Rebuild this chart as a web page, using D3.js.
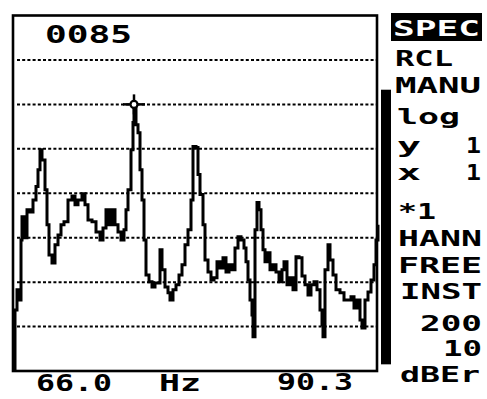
<!DOCTYPE html>
<html><head><meta charset="utf-8">
<script src="https://cdn.jsdelivr.net/npm/d3@7"></script>
<style>
html,body{margin:0;padding:0;background:#fff;}
svg{display:block;}
text{font-family:"DejaVu Sans Mono","Liberation Mono",monospace;font-weight:bold;fill:#000;}
</style></head>
<body>
<svg id="c" width="487" height="399"></svg>
<script>
// ---- data ----
const bins = [0,2,4,6,8,9,11,14,17,20,23,25,27,29,32,34,36,39,42,45,48,51,55,59,62,65,69,72,75,79,83,87,90,93,96,99,102,105,108,111,113,115,118,120,121,123,125,127,129,131,133,136,139,142,145,147,149,152,155,157,160,163,166,169,172,175,178,180,183,185,187,190,192,195,198,201,204,207,210,213,216,219,222,225,228,231,233,235,237,239,240,242,244,246,248,250,252,254,257,260,263,266,269,271,274,277,280,283,286,289,292,295,298,301,304,307,309,310,312,315,317,320,323,327,331,335,338,341,344,347,349,352,355,358,361,363,365];
const levels = [0.2,13.7,18.3,16.0,29.5,34.7,30.0,36.3,35.8,38.5,41.5,45.3,49.8,47.5,40.8,32.9,26.1,24.3,28.4,30.6,32.9,33.6,38.5,39.4,37.4,38.5,39.9,37.4,34.0,33.6,31.3,29.5,32.2,36.3,32.9,36.3,32.9,31.3,29.5,31.8,36.3,40.8,49.8,55.9,60.2,55.4,53.6,45.3,38.5,29.5,21.6,20.1,18.9,19.8,19.8,27.3,22.8,18.9,17.6,16.0,18.3,19.4,21.6,23.9,28.4,31.8,38.5,50.5,50.3,44.2,39.7,32.9,25.0,22.3,20.5,21.0,24.6,23.2,25.5,22.3,23.9,22.8,27.7,30.2,29.5,27.7,24.6,20.5,16.0,12.6,7.7,31.8,37.9,36.3,31.8,27.3,24.6,26.6,22.8,23.9,22.3,20.1,22.8,24.6,19.4,21.0,18.3,25.7,25.5,21.4,19.4,17.1,19.4,20.1,18.3,13.7,10.4,7.7,22.8,28.4,25.0,21.6,18.3,17.6,16.0,16.0,16.7,14.2,16.0,11.5,9.7,16.0,17.8,20.5,23.9,29.5,32.9];
const gridLevels = [10,20,30,40,50,60,70];
const cursorBin = 121, cursorLevel = 60;
const meterRange = [1.5, 63.3];
const counterLabel = "0085";
const axisLabels = ["66.0","Hz","90.3"];
const menuItems = ["SPEC","RCL","MANU","log","y","x","*1","HANN","FREE","INST","200","10","dBEr"];
const menuValues = ["1","1"];

// ---- layout ----
const svg = d3.select("#c");
const X0 = 13, X1 = 377, Y0 = 15.5, Y1 = 371;
const x = d3.scaleLinear().domain([0,365]).range([X0, 378]);
const y = d3.scaleLinear().domain([0,80]).range([Y1, Y0]);

// grid (dotted)
svg.append("g").selectAll("line").data(gridLevels).join("line")
  .attr("x1", X0+4).attr("x2", X1-1)
  .attr("y1", d=>y(d)).attr("y2", d=>y(d))
  .attr("stroke","#000").attr("stroke-width",2)
  .attr("stroke-dasharray","3,2.2");

// frame
svg.append("rect").attr("x",X0).attr("y",Y0).attr("width",X1-X0).attr("height",Y1-Y0)
  .attr("fill","none").attr("stroke","#000").attr("stroke-width",2.6);

// meter bar at right
svg.append("rect").attr("x",381).attr("width",10)
  .attr("y", y(meterRange[1])).attr("height", y(meterRange[0])-y(meterRange[1]))
  .attr("fill","#000");

// trace
const pts = bins.map((b,i)=>[b, levels[i]]);
const line = d3.line().x(d=>x(d[0])).y(d=>y(d[1])).curve(d3.curveStepAfter);
svg.append("path").attr("d", line(pts)).attr("fill","none")
  .attr("stroke","#000").attr("stroke-width",3).attr("stroke-linejoin","miter");

// cursor marker
const cx = x(cursorBin), cy = y(cursorLevel);
const mk = svg.append("g");
mk.append("line").attr("x1",cx-11).attr("x2",cx+11).attr("y1",cy).attr("y2",cy).attr("stroke","#000").attr("stroke-width",2.5);
mk.append("line").attr("x1",cx).attr("x2",cx).attr("y1",cy-10).attr("y2",cy+10).attr("stroke","#000").attr("stroke-width",2.5);
mk.append("circle").attr("cx",cx).attr("cy",cy).attr("r",3.5).attr("fill","#fff").attr("stroke","#000").attr("stroke-width",2.2);

// text helper
function txt(s, tx, ty, w, size, anchor){
  const t = svg.append("text").attr("x",tx).attr("y",ty).attr("font-size",size||21)
    .attr("text-anchor",anchor||"start").text(s);
  if (w) t.attr("textLength", w).attr("lengthAdjust","spacingAndGlyphs");
  return t;
}

txt(counterLabel, 45, 43, 87, 24);
txt(axisLabels[0], 36, 391, 76, 23);
txt(axisLabels[1], 159, 391, 42, 23);
txt(axisLabels[2], 277, 390, 76, 23);

// right menu
svg.append("rect").attr("x",391).attr("y",13).attr("width",91).attr("height",28).attr("fill","#000");
const menuPos = [
  [393,36,87],[395,66,58],[395,93,86],[397,124,63],[397,153,24],[397,180,24],
  [398,219,38],[398,246,84],[398,273,84],[400,299,82],[420,331,62],[443,356,39],[400,382,80]
];
menuItems.forEach((s,i)=>{
  const p = menuPos[i];
  const t = txt(s, p[0], p[1], p[2]);
  if (i===0) t.style("fill","#fff");
});
txt(menuValues[0], 466, 153, 15, 21);
txt(menuValues[1], 466, 180, 15, 21);
</script>
</body></html>
